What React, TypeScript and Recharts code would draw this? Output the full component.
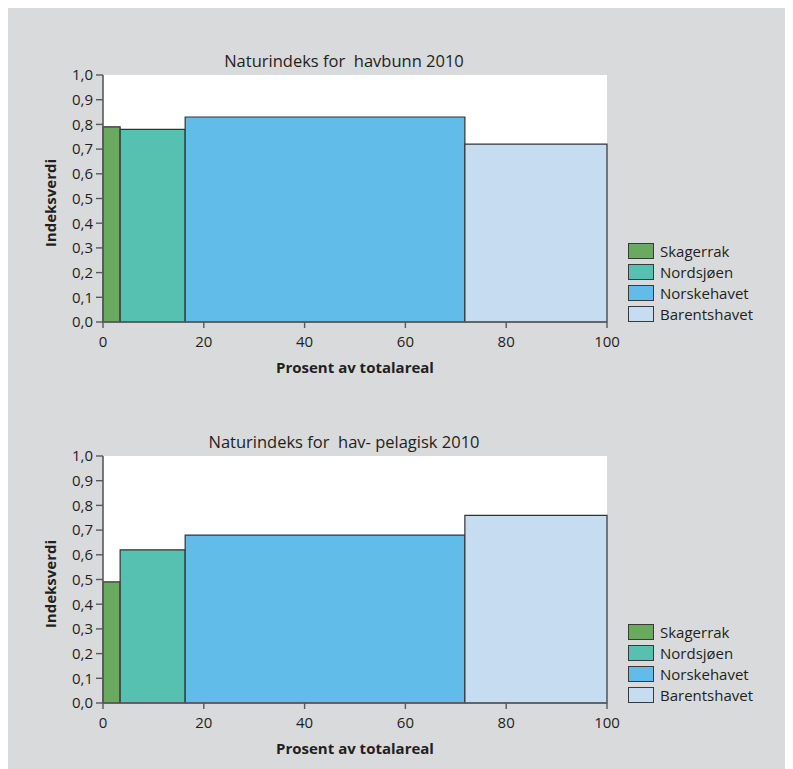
import React from 'react';
import { ComposedChart, XAxis, YAxis, ReferenceArea, CartesianGrid, Label } from 'recharts';

const regions = ['Skagerrak', 'Nordsjøen', 'Norskehavet', 'Barentshavet'];
const regionColors = ['#6aaa5e', '#56c1b0', '#62bce9', '#c6dcf0'];
// share of total area (percent) for each region, in order
const areaShare = [3.4, 12.9, 55.5, 28.2];
const havbunnValues = [0.79, 0.78, 0.83, 0.72];
const pelagiskValues = [0.49, 0.62, 0.68, 0.76];
const xTicks = [0, 20, 40, 60, 80, 100];
const yTicks = [0, 0.1, 0.2, 0.3, 0.4, 0.5, 0.6, 0.7, 0.8, 0.9, 1.0];

const FONT = '"Open Sans", sans-serif';
const TEXT = '#231f20';
const AXIS = '#58595b';
const BG = '#d9dadb';

function buildRects(values: number[]) {
  let start = 0;
  return regions.map((name, i) => {
    const x1 = start;
    const x2 = start + areaShare[i];
    start = x2;
    return { name, x1, x2, value: values[i], color: regionColors[i] };
  });
}

const LegendBox = () => (
  <div style={{ position: 'absolute', left: 621, top: 232, fontFamily: FONT }}>
    {regions.map((r, i) => (
      <div key={r} style={{ display: 'flex', alignItems: 'center', height: 21 }}>
        <div style={{ width: 26, height: 16, background: regionColors[i], border: '1.3px solid #3a3a3a', boxSizing: 'border-box', marginRight: 6 }} />
        <span style={{ fontSize: 15, color: TEXT, lineHeight: '16px' }}>{r}</span>
      </div>
    ))}
  </div>
);

const fmt = (v: number) => v.toFixed(1).replace('.', ',');

function Panel({ title, values, top }: { title: string; values: number[]; top: number }) {
  const rects = buildRects(values);
  return (
    <div style={{ position: 'absolute', left: 0, top, width: 786, height: 380 }}>
      <div style={{ position: 'absolute', left: 137, width: 400, top: 43, height: 20, lineHeight: '20px', textAlign: 'center', fontSize: 16.5, color: TEXT, fontFamily: FONT, whiteSpace: 'pre' }}>
        {title}
      </div>
      <ComposedChart width={786} height={380} margin={{ top: 67, right: 186, bottom: 15, left: 0 }} data={[]}>
        <CartesianGrid horizontal={false} vertical={false} fill="#ffffff" stroke="none" />
        <XAxis
          type="number"
          dataKey="x"
          domain={[0, 100]}
          ticks={xTicks}
          interval={0}
          allowDataOverflow
          height={51}
          tickSize={6}
          tickMargin={8}
          tick={{ fill: TEXT, fontSize: 15, fontFamily: FONT }}
          axisLine={{ stroke: AXIS, strokeWidth: 1.6 }}
          tickLine={{ stroke: AXIS, strokeWidth: 1.4 }}
        >
          <Label value="Prosent av totalareal" position="insideBottom" offset={0} style={{ fill: TEXT, fontSize: 15, fontWeight: 700, fontFamily: FONT }} />
        </XAxis>
        <YAxis
          type="number"
          domain={[0, 1]}
          ticks={yTicks}
          interval={0}
          allowDataOverflow
          width={96}
          tickSize={7}
          tickMargin={3}
          tickFormatter={fmt}
          tick={{ fill: TEXT, fontSize: 15, fontFamily: FONT }}
          axisLine={{ stroke: AXIS, strokeWidth: 1.6 }}
          tickLine={{ stroke: AXIS, strokeWidth: 1.4 }}
        >
          <Label
            content={() => (
              <text x={49} y={195} transform="rotate(-90 49 195)" textAnchor="middle" fill={TEXT} fontSize={15} fontWeight={700} fontFamily={FONT}>
                Indeksverdi
              </text>
            )}
          />
        </YAxis>
        {rects.map((r) => (
          <ReferenceArea
            key={r.name}
            x1={r.x1}
            x2={r.x2}
            y1={0}
            y2={r.value}
            fill={r.color}
            fillOpacity={1}
            stroke="#333333"
            strokeWidth={1.2}
            ifOverflow="visible"
          />
        ))}
      </ComposedChart>
      <LegendBox />
    </div>
  );
}

export default function App() {
  return (
    <div style={{ position: 'relative', marginLeft: -1, width: 786, height: 761, background: BG, fontFamily: FONT }}>
      <Panel title={'Naturindeks for  havbunn 2010'} values={havbunnValues} top={0} />
      <Panel title={'Naturindeks for  hav- pelagisk 2010'} values={pelagiskValues} top={381} />
    </div>
  );
}
